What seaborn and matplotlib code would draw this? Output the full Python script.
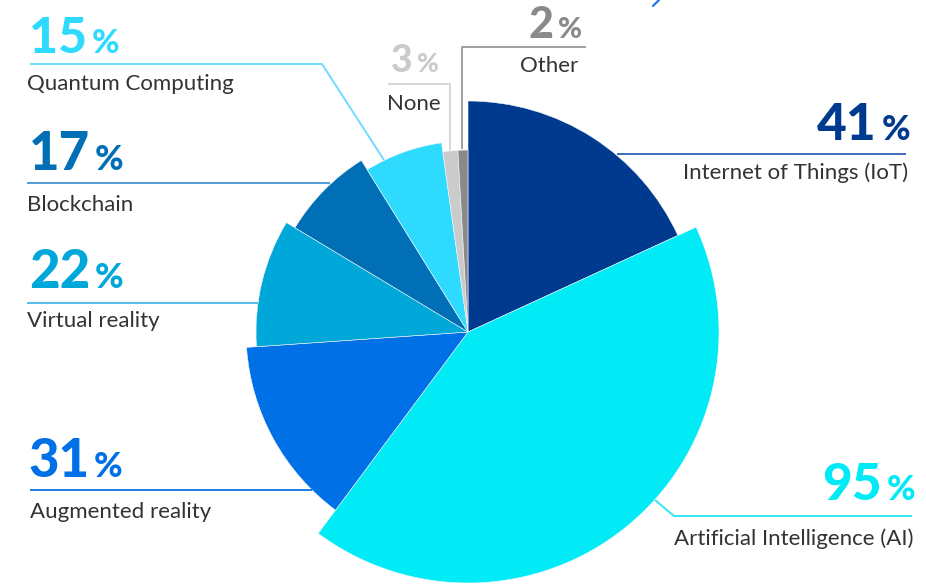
import matplotlib
matplotlib.use("Agg")
import matplotlib.pyplot as plt
import seaborn as sns

# Survey shares (percent of respondents, multiple answers allowed)
categories = ["Internet of Things (IoT)", "Artificial Intelligence (AI)", "Augmented reality",
              "Virtual reality", "Blockchain", "Quantum Computing", "None", "Other"]
values = [41, 95, 31, 22, 17, 15, 3, 2]
value_labels = ["41", "95", "31", "22", "17", "15", "3", "2"]

slice_colors = ["#003a8f", "#00ebf5", "#0070e6", "#00a7d9", "#006fb5", "#2fdaff", "#cbcbcb", "#8a8a8a"]
line_colors = ["#3f6bbd", "#33e6f2", "#1f7ae6", "#55bde6", "#4f9ed8", "#6fdcff", "#d6d6d6", "#a0a0a0"]
# outer radius of each wedge (pixels) for the stepped look
radii = [231, 251, 222, 212, 202, 191, 182, 182]

W, H = 926, 585
CX, CY = 468, 332


def Y(y):
    return H - y


sns.set_theme(style="white")
plt.rcParams["font.family"] = ["Lato", "DejaVu Sans"]

fig = plt.figure(figsize=(W / 100, H / 100), dpi=100)
ax = fig.add_axes([0, 0, 1, 1])

wedges, _ = ax.pie(values, colors=slice_colors, startangle=90, counterclock=False,
                   radius=max(radii), center=(CX, Y(CY)),
                   wedgeprops=dict(edgecolor="#f4f8fc", linewidth=0.4))
for w, r in zip(wedges, radii):
    w.set_radius(r)

ax.set_xlim(0, W)
ax.set_ylim(0, H)
ax.set_aspect("equal")
ax.axis("off")

fig.canvas.draw()
renderer = fig.canvas.get_renderer()
inv = ax.transData.inverted()

TEXT = "#333333"
NUM_WEIGHT = 900


def pct(x, y, num, color, size, psize, ha="left", gap=5):
    if ha == "left":
        t = ax.text(x, Y(y), num, color=color, fontsize=size, fontweight=NUM_WEIGHT,
                    ha="left", va="baseline")
        bb = t.get_window_extent(renderer)
        xe = inv.transform((bb.x1, 0))[0]
        ax.text(xe + gap, Y(y), "%", color=color, fontsize=psize, fontweight=NUM_WEIGHT,
                ha="left", va="baseline")
    else:
        p = ax.text(x, Y(y), "%", color=color, fontsize=psize, fontweight=NUM_WEIGHT,
                    ha="right", va="baseline")
        bb = p.get_window_extent(renderer)
        xs = inv.transform((bb.x0, 0))[0]
        ax.text(xs - gap, Y(y), num, color=color, fontsize=size, fontweight=NUM_WEIGHT,
                ha="right", va="baseline")


def label(x, y, text, ha="left"):
    ax.text(x, Y(y), text, color=TEXT, fontsize=16, ha=ha, va="baseline")


def leader(points, color, lw=1.4):
    xs = [p[0] for p in points]
    ys = [Y(p[1]) for p in points]
    ax.plot(xs, ys, color=color, lw=lw, solid_capstyle="butt")


idx = {c: i for i, c in enumerate(categories)}

# Internet of Things
i = idx["Internet of Things (IoT)"]
pct(910, 140, value_labels[i], slice_colors[i], 37, 25, ha="right")
leader([(617, 154), (906, 154)], line_colors[i])
label(908, 179, categories[i], ha="right")

# Artificial Intelligence
i = idx["Artificial Intelligence (AI)"]
pct(915, 500, value_labels[i], slice_colors[i], 37, 25, ha="right")
leader([(655, 500), (674, 516), (912, 516)], line_colors[i])
label(914, 545, categories[i], ha="right")

# Augmented reality
i = idx["Augmented reality"]
pct(28, 477, value_labels[i], slice_colors[i], 38, 25)
leader([(30, 490), (312, 490)], line_colors[i])
label(30, 518, categories[i])

# Virtual reality
i = idx["Virtual reality"]
pct(29, 288, value_labels[i], slice_colors[i], 38, 25)
leader([(27, 303), (258, 303)], line_colors[i])
label(27, 327, categories[i])

# Blockchain
i = idx["Blockchain"]
pct(29, 170, value_labels[i], slice_colors[i], 38, 25)
leader([(27, 183), (330, 183)], line_colors[i])
label(27, 211, categories[i])

# Quantum Computing
i = idx["Quantum Computing"]
pct(29, 53, value_labels[i], slice_colors[i], 36, 24)
leader([(30, 64), (322, 64), (384, 160)], line_colors[i])
label(27, 90, categories[i])

# None
i = idx["None"]
pct(391, 72, value_labels[i], slice_colors[i], 27, 19, gap=4)
leader([(388, 84), (450, 84), (450, 150)], line_colors[i])
label(387, 110, categories[i])

# Other
i = idx["Other"]
pct(529, 38, value_labels[i], slice_colors[i], 31, 21, gap=4)
leader([(462, 149), (462, 47), (586, 47)], line_colors[i])
label(520, 72, categories[i])

# small accent stroke at the top edge
ax.plot([653, 659], [Y(6), Y(0)], color="#1f7ae6", lw=1.6)

fig.savefig("out.png", dpi=100, facecolor="white")
